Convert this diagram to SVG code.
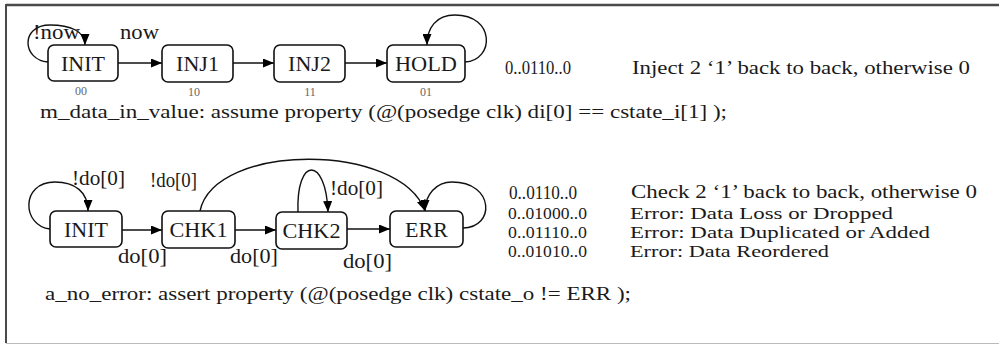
<svg xmlns="http://www.w3.org/2000/svg" width="999" height="345" viewBox="0 0 999 345">
<defs>
<marker id="ah" markerWidth="11" markerHeight="9" refX="11" refY="4.5" orient="auto" markerUnits="userSpaceOnUse">
<path d="M0,0 L11,4.5 L0,9 Z" fill="#000"/>
</marker>
<style>
.node rect{fill:#fff;stroke:#111;stroke-width:1.6}
.edges path{fill:none;stroke:#111;stroke-width:1.4}
.arr{marker-end:url(#ah)}
</style>
</defs>
<rect x="0" y="0" width="999" height="345" fill="#fff"/>
<line x1="6" y1="5" x2="999" y2="5" stroke="#4a4a4a" stroke-width="2.5"/>
<line x1="6" y1="4" x2="6" y2="343" stroke="#4a4a4a" stroke-width="2"/>
<line x1="6" y1="343.5" x2="999" y2="343.5" stroke="#bbb" stroke-width="1"/>

<g class="edges" id="connectors">
<path class="arr" d="M48,62 C22,60 20,25 50,25 C70,25 85,31 85,45"/>
<path class="arr" d="M118,63 L162,63"/>
<path class="arr" d="M233,63 L274,63"/>
<path class="arr" d="M345,63 L387,63"/>
<path class="arr" d="M465,62 C495,60 495,15 455,15 C436,15 427,28 427,45"/>
<path class="arr" d="M50,229 C22,226 20,182 55,182 C75,182 88,192 88,211"/>
<path class="arr" d="M122,230 L162,230"/>
<path class="arr" d="M235,230 L276,230"/>
<path class="arr" d="M347,229 L390,229"/>
<path class="arr" d="M200,211 C215,142 400,142 425,211"/>
<path class="arr" d="M298,212 C296,156 326,156 328,212"/>
<path class="arr" d="M463,228 C495,228 495,182 452,182 C436,182 425,195 425,211"/>
</g>

<g id="labels" fill="#1a1a1a">
<text font-family="Liberation Serif" font-size="20" x="33" y="39" textLength="47" lengthAdjust="spacingAndGlyphs">!now</text>
<text font-family="Liberation Serif" font-size="20" x="120" y="39" textLength="39" lengthAdjust="spacingAndGlyphs">now</text>
<text font-family="Liberation Serif" font-size="20" x="72" y="185" textLength="53" lengthAdjust="spacingAndGlyphs">!do[0]</text>
<text font-family="Liberation Serif" font-size="20" x="150" y="187" textLength="47" lengthAdjust="spacingAndGlyphs">!do[0]</text>
<text font-family="Liberation Serif" font-size="20" x="330" y="195" textLength="53" lengthAdjust="spacingAndGlyphs">!do[0]</text>
<text font-family="Liberation Serif" font-size="20" x="118" y="263" textLength="49" lengthAdjust="spacingAndGlyphs">do[0]</text>
<text font-family="Liberation Serif" font-size="20" x="230" y="263" textLength="48" lengthAdjust="spacingAndGlyphs">do[0]</text>
<text font-family="Liberation Serif" font-size="20" x="343" y="268" textLength="49" lengthAdjust="spacingAndGlyphs">do[0]</text>
</g>

<g id="t_init" class="node"><rect x="48" y="45" width="70" height="36" rx="6"/><text font-family="Liberation Serif" font-size="22" fill="#1a1a1a" text-anchor="middle" x="83" y="71">INIT</text><text font-family="Liberation Serif" font-size="12" fill="#666" text-anchor="middle" x="81" y="95">00</text></g>
<g id="t_inj1" class="node"><rect x="162" y="45" width="71" height="37" rx="6"/><text font-family="Liberation Serif" font-size="22" fill="#1a1a1a" text-anchor="middle" x="197.5" y="71">INJ1</text><text font-family="Liberation Serif" font-size="12" fill="#666" text-anchor="middle" x="194" y="96">10</text></g>
<g id="t_inj2" class="node"><rect x="274" y="45" width="71" height="37" rx="6"/><text font-family="Liberation Serif" font-size="22" fill="#1a1a1a" text-anchor="middle" x="309.5" y="71">INJ2</text><text font-family="Liberation Serif" font-size="12" fill="#666" text-anchor="middle" x="310" y="96">11</text></g>
<g id="t_hold" class="node"><rect x="387" y="45" width="78" height="37" rx="6"/><text font-family="Liberation Serif" font-size="22" fill="#1a1a1a" text-anchor="middle" x="426" y="71" textLength="62" lengthAdjust="spacingAndGlyphs">HOLD</text><text font-family="Liberation Serif" font-size="12" fill="#666" text-anchor="middle" x="426" y="96">01</text></g>

<g id="b_init" class="node"><rect x="50" y="211" width="72" height="36" rx="6"/><text font-family="Liberation Serif" font-size="22" fill="#1a1a1a" text-anchor="middle" x="86" y="237">INIT</text></g>
<g id="b_chk1" class="node"><rect x="162" y="211" width="73" height="37" rx="6"/><text font-family="Liberation Serif" font-size="22" fill="#1a1a1a" text-anchor="middle" x="198.5" y="237" textLength="58" lengthAdjust="spacingAndGlyphs">CHK1</text></g>
<g id="b_chk2" class="node"><rect x="276" y="212" width="71" height="37" rx="6"/><text font-family="Liberation Serif" font-size="22" fill="#1a1a1a" text-anchor="middle" x="311.5" y="238" textLength="58" lengthAdjust="spacingAndGlyphs">CHK2</text></g>
<g id="b_err" class="node"><rect x="390" y="211" width="73" height="36" rx="6"/><text font-family="Liberation Serif" font-size="22" fill="#1a1a1a" text-anchor="middle" x="426.5" y="237">ERR</text></g>

<g id="text_top" fill="#1a1a1a">
<text font-family="Liberation Serif" font-size="19.5" x="505" y="74" textLength="66" lengthAdjust="spacingAndGlyphs">0..0110..0</text>
<text font-family="Liberation Serif" font-size="19.5" x="632" y="74" textLength="338" lengthAdjust="spacingAndGlyphs">Inject 2 ‘1’ back to back, otherwise 0</text>
<text font-family="Liberation Serif" font-size="19.5" x="40" y="118" textLength="687" lengthAdjust="spacingAndGlyphs">m_data_in_value: assume property (@(posedge clk) di[0] == cstate_i[1] );</text>
</g>
<g id="text_bottom" fill="#1a1a1a">
<text font-family="Liberation Serif" font-size="19" x="509" y="199" textLength="68" lengthAdjust="spacingAndGlyphs">0..0110..0</text>
<text font-family="Liberation Serif" font-size="19.5" x="631" y="198" textLength="346" lengthAdjust="spacingAndGlyphs">Check 2 ‘1’ back to back, otherwise 0</text>
<text font-family="Liberation Serif" font-size="17.5" x="508" y="219" textLength="79" lengthAdjust="spacingAndGlyphs">0..01000..0</text>
<text font-family="Liberation Serif" font-size="17.5" x="630" y="219" textLength="263" lengthAdjust="spacingAndGlyphs">Error: Data Loss or Dropped</text>
<text font-family="Liberation Serif" font-size="17.5" x="508" y="238" textLength="79" lengthAdjust="spacingAndGlyphs">0..01110..0</text>
<text font-family="Liberation Serif" font-size="17.5" x="630" y="238" textLength="300" lengthAdjust="spacingAndGlyphs">Error: Data Duplicated or Added</text>
<text font-family="Liberation Serif" font-size="17.5" x="508" y="257" textLength="79" lengthAdjust="spacingAndGlyphs">0..01010..0</text>
<text font-family="Liberation Serif" font-size="17.5" x="630" y="257" textLength="199" lengthAdjust="spacingAndGlyphs">Error: Data Reordered</text>
<text font-family="Liberation Serif" font-size="19.5" x="45" y="300" textLength="586" lengthAdjust="spacingAndGlyphs">a_no_error: assert property (@(posedge clk) cstate_o != ERR );</text>
</g>
</svg>
